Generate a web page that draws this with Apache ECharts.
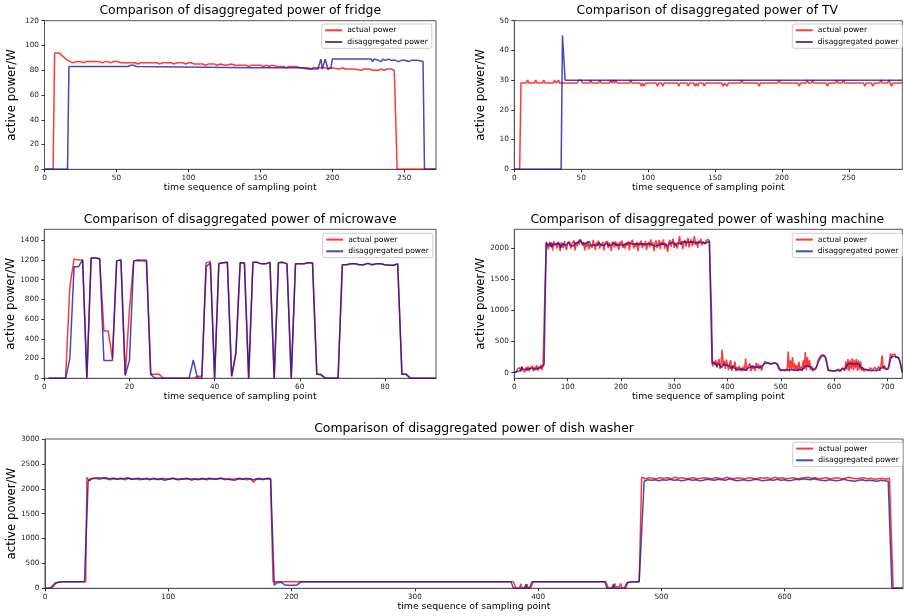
<!DOCTYPE html>
<html><head><meta charset="utf-8">
<script src="https://cdn.jsdelivr.net/npm/echarts@6/dist/echarts.min.js"></script>
<style>html,body{margin:0;padding:0;background:#fff}#c{width:904px;height:616px}</style>
</head><body><div id="c"></div>
<script>
// ---------- DATA ----------
const seriesNames = ['actual power', 'disaggregated power'];
const panelTitles = [
  'Comparison of disaggregated power of fridge',
  'Comparison of disaggregated power of TV',
  'Comparison of disaggregated power of microwave',
  'Comparison of disaggregated power of washing machine',
  'Comparison of disaggregated power of dish washer'
];
const xAxisTitle = 'time sequence of sampling point';
const yAxisTitle = 'active power/W';

// fridge  [sample, W]
const fridgeActual = [[0,0],[6,0],[7,94],[10,94],[12,92],[14,90],[16,88],[18,87],[20,86],[22,87],[23,86],[25,87],[27,86],[29,87],[38,87],[40,86],[42,87],[44,87],[46,86],[48,87],[51,87],[53,86],[63,86],[65,85],[67,86],[78,86],[80,85],[82,86],[88,86],[90,85],[92,86],[96,86],[98,85],[100,86],[102,86],[104,85],[110,85],[112,84],[114,85],[118,85],[120,84],[122,85],[126,84],[130,85],[132,84],[140,84],[142,83],[144,84],[150,84],[152,83],[154,84],[156,83],[158,84],[162,83],[166,83],[168,82],[170,83],[175,83],[177,82],[183,82],[185,81],[187,82],[195,82],[197,81],[199,82],[200,81],[205,81],[207,82],[209,81],[215,81],[220,80],[222,81],[226,81],[228,80],[232,80],[234,81],[236,80],[238,81],[241,81],[243,80],[244,80],[245,0],[272,0]];
const fridgeDisagg = [[0,0],[16,0],[17,83],[25,83],[26,84],[27,83],[28,84],[29,83],[58,83],[60,84],[62,84],[64,83],[65,82],[145,82],[146,83],[148,82],[178,82],[179,81],[183,81],[184,82],[190,81],[191,81],[192,89],[193,81],[194,81],[195,89],[196,89],[197,81],[198,81],[199,82],[200,89],[201,89],[225,89],[226,88],[227,89],[228,87],[229,89],[230,88],[232,88],[233,89],[234,87],[235,89],[237,88],[239,89],[241,88],[244,88],[245,89],[246,87],[248,88],[250,88],[251,89],[253,87],[255,88],[257,88],[258,89],[259,88],[263,87],[264,0],[272,0]];

// TV
const tvActual = [[0,0],[4,0],[5,29],[9,29],[10,30],[11,29],[15,29],[16,30],[17,29],[21,29],[22,30],[23,29],[29,29],[30,30],[31,29],[32,29],[33,30],[34,29],[47,29],[48,30],[50,30],[51,29],[56,29],[57,30],[58,29],[63,29],[64,30],[65,29],[71,29],[72,30],[73,29],[74,30],[75,29],[76,30],[77,29],[86,29],[87,30],[88,29],[94,29],[95,28],[96,29],[97,28],[98,29],[106,29],[107,28],[108,29],[110,29],[111,28],[112,29],[122,29],[123,28],[124,29],[129,29],[130,28],[131,29],[134,29],[135,28],[136,29],[137,28],[138,29],[141,29],[142,28],[143,29],[155,29],[156,28],[157,29],[158,29],[159,28],[160,29],[169,29],[170,30],[171,29],[182,29],[183,28],[184,29],[197,29],[198,30],[199,29],[212,29],[213,28],[214,29],[218,29],[219,30],[220,29],[222,29],[223,30],[224,29],[233,29],[234,28],[235,29],[240,29],[241,30],[242,29],[245,29],[246,30],[247,29],[261,29],[262,28],[263,29],[267,29],[268,28],[269,29],[273,29],[274,30],[275,29],[279,29],[280,30],[281,29],[282,28],[283,29],[290,29]];
const tvDisagg = [[0,0],[35,0],[36,45],[38,30],[290,30]];

// microwave (samples 1..92)
const mwActual = [0,0,0,0,0,930,1210,1200,1200,10,1220,1220,1215,480,480,200,1190,1200,30,700,1190,1200,1200,1200,40,40,40,0,0,0,0,0,0,0,0,20,20,1170,1185,0,1165,1170,1175,20,260,1170,1170,0,1175,1175,1160,1160,1175,0,1170,1175,1160,0,1160,1160,1160,1170,1165,40,40,0,0,0,0,1150,1150,1160,1160,1150,1150,1165,1150,1160,1160,1150,1145,1145,1160,40,40,0,0,0,0,0,0,0];
const mwDisagg = [0,0,0,0,0,200,1130,1130,1200,0,1220,1220,1210,180,180,180,1190,1200,30,180,1190,1195,1190,1185,40,0,0,0,0,0,0,0,0,0,185,0,0,1130,1170,0,1160,1170,1175,20,250,1170,1165,0,1175,1175,1160,1160,1175,0,1170,1175,1160,0,1160,1160,1160,1170,1170,40,35,0,0,0,0,1150,1150,1160,1160,1150,1150,1165,1150,1160,1160,1150,1145,1145,1160,40,40,0,0,0,0,0,0,0];

// washing machine
const washActual = [[0,10],[2,40],[4,20],[6,60],[8,30],[10,80],[12,20],[14,90],[16,40],[18,70],[20,10],[22,90],[24,30],[26,100],[28,20],[30,80],[32,50],[34,110],[36,20],[38,90],[40,40],[42,120],[44,30],[46,100],[48,60],[50,130],[52,40],[54,120],[56,150],[58,1500],[60,2100],[62,2130],[64,1980],[66,2100],[68,2020],[70,2090],[72,1960],[74,2110],[76,2040],[78,2080],[80,1990],[82,2100],[84,2050],[86,1950],[88,2090],[90,2060],[92,2000],[94,2110],[96,2030],[98,1970],[100,2080],[102,2050],[104,2100],[106,1990],[108,2070],[110,2040],[112,2120],[114,1960],[116,2090],[118,2030],[120,2110],[122,2060],[124,2140],[126,2160],[128,2040],[130,2100],[132,1960],[134,2080],[136,2020],[138,2110],[140,1980],[142,2060],[144,2090],[146,2000],[148,2130],[150,2050],[152,1970],[154,2090],[156,2040],[158,2120],[160,1990],[162,2070],[164,2030],[166,2100],[168,1960],[170,2080],[172,2050],[174,2110],[176,2000],[178,2090],[180,2040],[182,1950],[184,2100],[186,2060],[188,2010],[190,2110],[192,2030],[194,2080],[196,1970],[198,2100],[200,2050],[202,2120],[204,2000],[206,2070],[208,1990],[210,2090],[212,2040],[214,2110],[216,1960],[218,2080],[220,2050],[222,2130],[224,1990],[226,2070],[228,2020],[230,2100],[232,1950],[234,2090],[236,2040],[238,2120],[240,2000],[242,2080],[244,2030],[246,2110],[248,1970],[250,2060],[252,2100],[254,2010],[256,2140],[258,2040],[260,2090],[262,1950],[264,2080],[266,2120],[268,2000],[270,2070],[272,2130],[274,1980],[276,2100],[278,2050],[280,2140],[282,1990],[284,2080],[286,2110],[288,1940],[290,2090],[292,2130],[294,2020],[296,2100],[298,2150],[300,2000],[302,2090],[304,2120],[306,1990],[308,2080],[310,2190],[312,2050],[314,2110],[316,1980],[318,2090],[320,2130],[322,2020],[324,2100],[326,2160],[328,2010],[330,2090],[332,2140],[334,2030],[336,2100],[338,2190],[340,2050],[342,2110],[344,2000],[346,2120],[348,2080],[350,2150],[352,2040],[354,2100],[356,2130],[358,2060],[360,2120],[362,2090],[364,2140],[366,2100],[368,2080],[370,1000],[372,100],[374,180],[376,120],[378,200],[380,80],[382,160],[384,220],[386,60],[388,150],[390,370],[392,100],[394,190],[396,60],[398,210],[400,120],[402,40],[404,150],[406,200],[408,30],[410,120],[412,70],[414,180],[416,20],[418,90],[420,40],[422,110],[424,30],[426,80],[428,20],[430,100],[432,40],[434,230],[436,30],[438,90],[440,60],[442,150],[444,20],[446,120],[448,60],[450,110],[452,30],[454,160],[456,80],[458,140],[460,60],[462,120],[464,30],[466,100],[468,140],[470,180],[472,150],[474,160],[476,130],[478,160],[480,150],[482,140],[484,160],[486,150],[488,140],[490,160],[492,150],[494,120],[496,60],[498,40],[500,30],[504,50],[508,30],[510,60],[512,40],[514,340],[516,20],[518,200],[520,60],[522,250],[524,30],[526,150],[528,40],[530,120],[532,20],[534,180],[536,40],[538,90],[540,30],[542,200],[544,60],[546,330],[548,40],[550,250],[552,80],[554,200],[556,40],[558,100],[560,20],[562,60],[564,30],[566,80],[568,120],[570,200],[572,240],[574,260],[576,280],[578,270],[580,290],[582,260],[584,250],[586,200],[588,40],[590,20],[594,40],[598,20],[600,50],[604,30],[608,60],[612,20],[616,80],[620,30],[622,180],[624,50],[626,220],[628,30],[630,200],[632,60],[634,230],[636,40],[638,210],[640,70],[642,220],[644,30],[646,200],[648,50],[650,180],[652,30],[654,90],[656,20],[660,60],[664,30],[668,80],[672,40],[676,90],[680,40],[684,100],[686,30],[688,120],[690,280],[692,60],[694,120],[696,90],[698,50],[700,80],[702,60],[704,200],[706,310],[708,240],[710,290],[712,260],[714,300],[716,240],[718,270],[720,250],[722,230],[724,180],[726,60],[728,10]];
const washDisagg = [[0,0],[3,30],[6,20],[9,40],[12,30],[14,100],[16,60],[18,40],[21,50],[24,30],[27,60],[30,40],[33,70],[36,50],[39,60],[42,80],[45,70],[48,100],[51,90],[54,110],[56,130],[58,1200],[60,2080],[62,2100],[64,2040],[66,2020],[68,2080],[70,2010],[72,2060],[75,2030],[78,2060],[81,2040],[84,2080],[87,2000],[90,2070],[93,2050],[96,2040],[99,2070],[102,2090],[105,2040],[108,2060],[111,2030],[114,2080],[117,2050],[120,2090],[123,2130],[126,2150],[129,2060],[132,2040],[135,2080],[138,2050],[141,2100],[144,2040],[147,2070],[150,2050],[153,2080],[156,2040],[159,2090],[162,2050],[165,2070],[168,2040],[171,2060],[174,2080],[177,2040],[180,2070],[183,2050],[186,2090],[189,2060],[192,2040],[195,2070],[198,2050],[201,2080],[204,2040],[207,2060],[210,2070],[213,2040],[216,2080],[219,2050],[222,2060],[225,2040],[228,2070],[231,2050],[234,2060],[237,2030],[240,2070],[243,2040],[246,2060],[249,2050],[252,2070],[255,2040],[258,2050],[261,2070],[264,2030],[267,2060],[270,2040],[273,2050],[276,2070],[279,2040],[282,2060],[285,2050],[288,2030],[291,2070],[294,2060],[297,2090],[300,2070],[303,2040],[306,2080],[309,2090],[312,2070],[315,2060],[318,2100],[321,2080],[324,2090],[327,2070],[330,2100],[333,2080],[336,2090],[339,2070],[342,2080],[345,2100],[348,2090],[351,2080],[354,2090],[357,2100],[360,2080],[363,2100],[366,2110],[369,2100],[371,150],[374,140],[377,160],[380,100],[383,150],[386,130],[389,80],[392,140],[395,130],[398,120],[401,100],[404,110],[407,60],[410,100],[413,90],[416,50],[419,40],[422,50],[425,40],[428,60],[431,50],[434,40],[437,60],[440,80],[443,90],[446,100],[449,70],[452,90],[455,100],[458,80],[461,90],[464,100],[467,130],[470,150],[475,150],[480,140],[485,150],[490,150],[494,140],[497,80],[500,40],[505,40],[510,50],[515,40],[520,50],[525,40],[530,40],[535,50],[540,40],[543,60],[546,100],[550,110],[555,100],[558,90],[561,50],[565,50],[568,80],[571,180],[574,230],[577,270],[580,300],[583,260],[586,240],[588,100],[590,30],[595,30],[600,30],[605,40],[610,30],[615,60],[620,60],[623,100],[626,140],[630,150],[635,140],[640,140],[645,150],[648,120],[651,80],[655,60],[658,30],[665,40],[670,30],[675,40],[680,30],[685,50],[688,80],[692,100],[696,60],[700,60],[703,100],[706,220],[709,260],[712,250],[715,260],[718,250],[721,240],[724,220],[726,100],[728,0]];

// dish washer
const dishActual = [[0,0],[5,0],[7,40],[9,110],[12,125],[15,130],[33,130],[34,2230],[36,2160],[38,2200],[41,2210],[44,2190],[47,2210],[50,2200],[53,2180],[56,2210],[59,2190],[62,2200],[65,2180],[68,2210],[71,2190],[74,2200],[77,2180],[80,2200],[83,2210],[86,2190],[89,2200],[92,2180],[95,2210],[98,2200],[101,2190],[104,2210],[107,2180],[110,2200],[113,2190],[116,2200],[119,2170],[122,2200],[125,2190],[128,2210],[131,2180],[134,2200],[137,2190],[140,2200],[143,2210],[146,2180],[149,2200],[152,2190],[155,2200],[158,2210],[161,2190],[164,2180],[167,2200],[169,2130],[171,2180],[174,2210],[177,2180],[180,2200],[183,2190],[184,2180],[185,130],[190,130],[380,130],[382,0],[385,0],[386,90],[387,0],[390,0],[391,80],[392,0],[394,0],[396,130],[455,130],[457,0],[461,0],[462,100],[463,30],[466,30],[467,100],[468,0],[471,0],[473,120],[482,130],[484,2230],[487,2200],[490,2220],[493,2210],[496,2200],[499,2220],[502,2210],[505,2220],[508,2200],[511,2230],[514,2210],[517,2220],[520,2200],[523,2210],[526,2220],[529,2200],[532,2210],[535,2220],[538,2210],[541,2200],[544,2220],[547,2210],[550,2200],[553,2230],[556,2210],[559,2200],[562,2220],[565,2210],[568,2200],[571,2220],[574,2210],[577,2200],[580,2220],[583,2210],[586,2220],[589,2200],[592,2230],[595,2210],[598,2220],[601,2200],[604,2210],[607,2220],[610,2200],[613,2210],[616,2220],[619,2230],[622,2210],[625,2220],[628,2200],[631,2210],[634,2220],[637,2200],[640,2210],[643,2220],[646,2200],[649,2210],[652,2230],[655,2210],[658,2200],[661,2210],[664,2220],[667,2200],[670,2210],[673,2190],[676,2200],[679,2210],[682,2190],[685,2210],[686,2200],[688,0],[696,0]];
const dishDisagg = [[0,0],[4,0],[6,50],[8,100],[11,120],[15,130],[32,130],[35,2150],[37,2200],[40,2210],[43,2220],[46,2210],[49,2220],[52,2200],[55,2210],[58,2190],[61,2210],[64,2200],[67,2220],[70,2190],[73,2200],[76,2210],[79,2190],[82,2200],[85,2180],[88,2210],[91,2190],[94,2200],[97,2170],[100,2190],[103,2210],[106,2200],[109,2180],[112,2200],[115,2210],[118,2190],[121,2200],[124,2180],[127,2200],[130,2190],[133,2210],[136,2200],[139,2190],[142,2210],[145,2200],[148,2190],[151,2180],[154,2170],[157,2200],[160,2190],[163,2210],[166,2200],[169,2180],[172,2200],[175,2190],[178,2200],[181,2210],[183,2200],[186,60],[188,110],[192,120],[194,70],[197,60],[204,60],[207,120],[210,130],[378,130],[380,0],[389,0],[390,80],[391,0],[393,0],[395,130],[454,130],[456,0],[460,0],[461,80],[462,0],[470,0],[472,110],[476,130],[482,130],[486,2150],[489,2180],[492,2170],[495,2180],[498,2160],[501,2180],[504,2170],[507,2190],[510,2170],[513,2180],[516,2160],[519,2170],[522,2190],[525,2170],[528,2180],[531,2160],[534,2170],[537,2190],[540,2180],[543,2170],[546,2190],[549,2180],[552,2170],[555,2200],[558,2180],[561,2160],[564,2170],[567,2180],[570,2160],[573,2170],[576,2190],[579,2180],[582,2160],[585,2170],[588,2180],[591,2170],[594,2190],[597,2170],[600,2180],[603,2160],[606,2170],[609,2190],[612,2180],[615,2200],[618,2190],[621,2180],[624,2200],[627,2180],[630,2170],[633,2160],[636,2180],[639,2170],[642,2160],[645,2170],[648,2190],[651,2170],[654,2160],[657,2150],[660,2170],[663,2180],[666,2160],[669,2170],[672,2160],[675,2150],[678,2170],[681,2160],[684,2150],[685,2160],[687,0],[696,0]];

// tick labels
const xTicks = [[0,50,100,150,200,250],[0,50,100,150,200,250],[0,20,40,60,80],[0,100,200,300,400,500,600,700],[0,100,200,300,400,500,600]];
const yTicks = [[0,20,40,60,80,100,120],[0,10,20,30,40,50],[0,200,400,600,800,1000,1200,1400],[0,500,1000,1500,2000],[0,500,1000,1500,2000,2500,3000]];
const xRange = [[0,272],[0,290],[0,92],[0,728],[0,696]];
const yRange = [[0,120],[0,50],[0,1510],[-90,2300],[0,3000]];

// ---------- LAYOUT ----------
const FONT = 'DejaVu Sans';
const grids = [
  {left:44.5, top:20.7, width:391.5, height:148.6},
  {left:514.3, top:20.7, width:388, height:148.6},
  {left:44.3, top:229.3, width:391.7, height:149},
  {left:514.3, top:229.3, width:388, height:149},
  {left:45, top:439, width:858, height:149.3}
];
const titleTops = [5, 5, 214, 214, 423];
const legendPos = [[321.7,24],[792.3,24],[322.7,233.3],[792.3,233.3],[792.7,442.3]];
const RED = 'rgba(255,0,0,0.78)';
const BLUE = 'rgba(20,20,165,0.78)';
const SPINE = '#555';

const mwX = mwActual.map((v,i)=>[i+1, v]);
const mwDX = mwDisagg.map((v,i)=>[i+1, v]);
const panelData = [
  [fridgeActual, fridgeDisagg],
  [tvActual, tvDisagg],
  [mwX, mwDX],
  [washActual, washDisagg],
  [dishActual, dishDisagg]
];

const option = {
  backgroundColor: '#fff',
  animation: false,
  textStyle: {fontFamily: FONT},
  title: [], grid: [], xAxis: [], yAxis: [], legend: [], series: []
};

const plain = v => String(v);

grids.forEach((g, i) => {
  option.grid.push(Object.assign({show:true, borderColor:SPINE, borderWidth:1, backgroundColor:'transparent',
    containLabel:false, outerBoundsMode:'none'}, g));
  option.title.push({
    text: panelTitles[i], left: g.left + g.width/2 - (i===1||i===3 ? 1 : 0), top: titleTops[i], textAlign: 'center', padding: 0,
    textStyle: {fontFamily: FONT, fontSize: 12.4, fontWeight: 'normal', color: '#000'}
  });
  option.xAxis.push({
    type: 'value', gridIndex: i, min: xRange[i][0], max: xRange[i][1],
    name: xAxisTitle, nameLocation: 'middle', nameGap: 14, nameMoveOverlap: false,
    nameTextStyle: {fontFamily: FONT, fontSize: 9.3, color: '#000'},
    axisLine: {show: true, onZero: false, lineStyle: {color: SPINE, width: 1}},
    axisTick: {show: true, length: 3, customValues: xTicks[i], lineStyle: {color: '#333'}},
    axisLabel: {customValues: xTicks[i], formatter: plain, margin: 5, fontFamily: FONT, fontSize: 7.3, color: '#222'},
    splitLine: {show: false}
  });
  option.yAxis.push({
    type: 'value', gridIndex: i, min: yRange[i][0], max: yRange[i][1],
    name: yAxisTitle, nameLocation: 'middle', nameGap: 27, nameRotate: 90, nameMoveOverlap: false,
    nameTextStyle: {fontFamily: FONT, fontSize: 11.8, color: '#000'},
    axisLine: {show: true, onZero: false, lineStyle: {color: SPINE, width: 1}},
    axisTick: {show: true, length: 3, customValues: yTicks[i], lineStyle: {color: '#333'}},
    axisLabel: {customValues: yTicks[i], formatter: plain, margin: 5.5, fontFamily: FONT, fontSize: 7.3, color: '#222'},
    splitLine: {show: false}
  });
  option.legend.push({
    data: seriesNames, orient: 'vertical', left: legendPos[i][0], top: legendPos[i][1],
    itemWidth: 17, itemHeight: 2, itemGap: 2.7, icon: 'rect',
    padding: [1.8, 4, 1.8, 3.5], borderColor: '#ccc', borderWidth: 1, borderRadius: 2,
    backgroundColor: 'rgba(255,255,255,0.85)',
    textStyle: {fontFamily: FONT, fontSize: 7.6, color: '#000', lineHeight: 9},
    selectedMode: false
  });
  const cols = [RED, BLUE];
  panelData[i].forEach((d, k) => {
    option.series.push({
      type: 'line', name: seriesNames[k], xAxisIndex: i, yAxisIndex: i,
      data: d, showSymbol: false, symbol: 'none', color: cols[k],
      lineStyle: {width: 1.5, color: cols[k]}, itemStyle: {color: cols[k]},
      clip: true, silent: true, z: 2 + k
    });
  });
});

const chart = echarts.init(document.getElementById('c'), null, {renderer: 'canvas'});
chart.setOption(option);
</script>
</body></html>
